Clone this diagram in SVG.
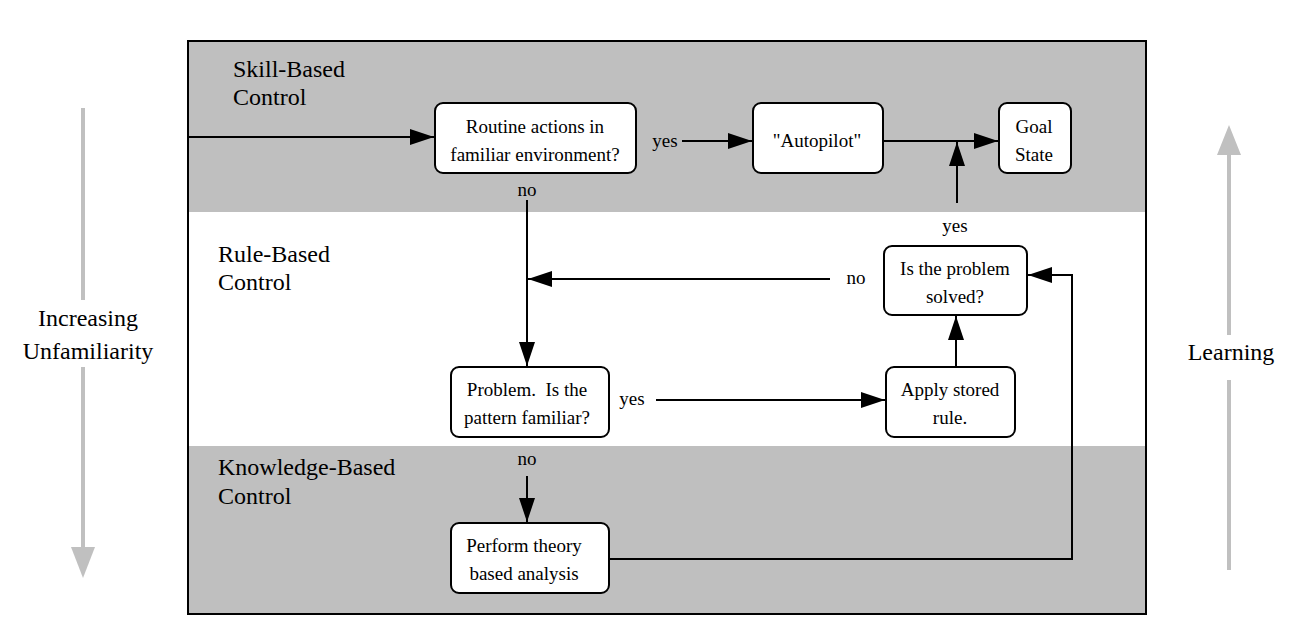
<svg xmlns="http://www.w3.org/2000/svg" width="1310" height="644" viewBox="0 0 1310 644" font-family="'Liberation Serif', 'Times New Roman', 'DejaVu Serif', serif">
<style>
text{font-family:"Liberation Serif","Times New Roman","DejaVu Serif",serif;fill:#000}
.band{fill:#bfbfbf}
.lbl{font-size:24px}
.t{font-size:19px;text-anchor:middle}
.node rect{fill:#fff;stroke:#000;stroke-width:2}
.c{fill:none;stroke:#000;stroke-width:2}
.g{fill:none;stroke:#c0c0c0;stroke-width:4}
.side{font-size:24px;text-anchor:middle}
</style>
<defs>
<marker id="ahb" markerWidth="24" markerHeight="16" refX="24" refY="8" orient="auto" markerUnits="userSpaceOnUse" viewBox="0 0 24 16">
<path d="M0,0 L24,8 L0,16 Z" fill="#000"/>
</marker>
</defs>
<g id="bands">
<rect class="band" x="188" y="41" width="958" height="171"/>
<rect x="188" y="212" width="958" height="234" fill="#fff"/>
<rect class="band" x="188" y="446" width="958" height="168"/>
<rect x="188" y="41" width="958" height="573" fill="none" stroke="#000" stroke-width="2"/>
<text class="lbl" x="233" y="77">Skill-Based</text>
<text class="lbl" x="233" y="105">Control</text>
<text class="lbl" x="218" y="262">Rule-Based</text>
<text class="lbl" x="218" y="290">Control</text>
<text class="lbl" x="218" y="475">Knowledge-Based</text>
<text class="lbl" x="218" y="504">Control</text>
</g>
<g id="side-arrows">
<line class="g" x1="83" y1="108" x2="83" y2="300"/>
<line class="g" x1="83" y1="367" x2="83" y2="548"/>
<path d="M71,547 L95,547 L83,578 Z" fill="#c0c0c0"/>
<text class="side" x="88" y="326">Increasing</text>
<text class="side" x="88" y="359">Unfamiliarity</text>
<line class="g" x1="1229" y1="570" x2="1229" y2="380"/>
<line class="g" x1="1229" y1="335" x2="1229" y2="154"/>
<path d="M1217,155 L1241,155 L1229,125 Z" fill="#c0c0c0"/>
<text class="side" x="1231" y="360">Learning</text>
</g>
<g id="connectors">
<line class="c" x1="188" y1="137" x2="434" y2="137" marker-end="url(#ahb)"/>
<line class="c" x1="682" y1="141" x2="752" y2="141" marker-end="url(#ahb)"/>
<line class="c" x1="883" y1="141" x2="998" y2="141" marker-end="url(#ahb)"/>
<line class="c" x1="957" y1="203" x2="957" y2="142" marker-end="url(#ahb)"/>
<line class="c" x1="527" y1="200" x2="527" y2="366" marker-end="url(#ahb)"/>
<line class="c" x1="830" y1="279" x2="528" y2="279" marker-end="url(#ahb)"/>
<line class="c" x1="656" y1="400" x2="885" y2="400" marker-end="url(#ahb)"/>
<line class="c" x1="956" y1="367" x2="956" y2="316" marker-end="url(#ahb)"/>
<line class="c" x1="527" y1="476" x2="527" y2="522" marker-end="url(#ahb)"/>
<path class="c" d="M609,559 L1072,559 L1072,275 L1028,275" marker-end="url(#ahb)"/>
<text class="t" x="665" y="147">yes</text>
<text class="t" x="955" y="232">yes</text>
<text class="t" x="527" y="196">no</text>
<text class="t" x="856" y="284">no</text>
<text class="t" x="632" y="405">yes</text>
<text class="t" x="527" y="465">no</text>
</g>
<g id="n-routine" class="node">
<rect x="435" y="103" width="201" height="70" rx="8"/>
<text class="t" x="535" y="133">Routine actions in</text>
<text class="t" x="535" y="161">familiar environment?</text>
</g>
<g id="n-autopilot" class="node">
<rect x="753" y="103" width="130" height="70" rx="8"/>
<text class="t" x="817" y="147">"Autopilot"</text>
</g>
<g id="n-goal" class="node">
<rect x="999" y="103" width="72" height="70" rx="8"/>
<text class="t" x="1034" y="133">Goal</text>
<text class="t" x="1034" y="161">State</text>
</g>
<g id="n-solved" class="node">
<rect x="884" y="246" width="143" height="69" rx="8"/>
<text class="t" x="955" y="275">Is the problem</text>
<text class="t" x="955" y="303">solved?</text>
</g>
<g id="n-apply" class="node">
<rect x="886" y="367" width="129" height="70" rx="8"/>
<text class="t" x="950" y="396">Apply stored</text>
<text class="t" x="950" y="424">rule.</text>
</g>
<g id="n-problem" class="node">
<rect x="451" y="367" width="158" height="70" rx="8"/>
<text class="t" x="527" y="396" xml:space="preserve" style="white-space:pre">Problem.  Is the</text>
<text class="t" x="527" y="424">pattern familiar?</text>
</g>
<g id="n-perform" class="node">
<rect x="451" y="523" width="158" height="70" rx="8"/>
<text class="t" x="524" y="552">Perform theory</text>
<text class="t" x="524" y="580">based analysis</text>
</g>
</svg>
